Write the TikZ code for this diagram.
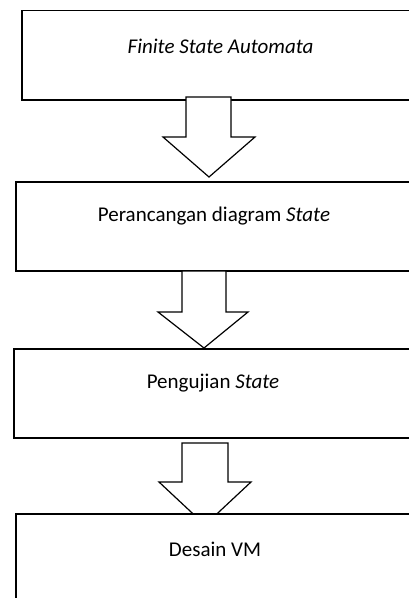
\documentclass[tikz,border=0pt]{standalone}
\usepackage{fontspec}
\setmainfont{Carlito}
\begin{document}
\begin{tikzpicture}[x=1pt,y=-1pt,
  line width=1.2pt, line join=miter,
  stepbox/.style={draw=black, fill=white, rectangle},
  blockarrow/.style={draw=black, fill=white},
  lbl/.style={font=\fontsize{21}{25}\selectfont, inner sep=0pt, anchor=center}]
\useasboundingbox (0,0) rectangle (409,598);
\clip (0,0) rectangle (409,598);
% box 1
\draw[stepbox] (22,10.5) rectangle (425,100);
\node[lbl] (t1) at (220.5,46) {\itshape Finite State Automata};
% arrow 1
\draw[blockarrow] (186,97) -- (231,97) -- (231,137) -- (255,137) -- (209,177) -- (163,137) -- (186,137) -- cycle;
% box 2
\draw[stepbox] (16,182) rectangle (425,271);
\node[lbl] (t2) at (214,216) {Perancangan diagram \textit{State}};
% arrow 2
\draw[blockarrow] (182,271) -- (226,271) -- (226,312) -- (248,312) -- (204,348) -- (158,312) -- (182,312) -- cycle;
% box 3
\draw[stepbox] (14,349) rectangle (425,438);
\node[lbl] (t3) at (213,383) {Pengujian \textit{State}};
% arrow 3
\draw[blockarrow] (182,443) -- (228,443) -- (228,482) -- (251,482) -- (205,525) -- (159,482) -- (182,482) -- cycle;
% box 4
\draw[stepbox] (16,514) rectangle (425,620);
\node[lbl] (t4) at (215,549) {Desain VM};
\end{tikzpicture}
\end{document}
